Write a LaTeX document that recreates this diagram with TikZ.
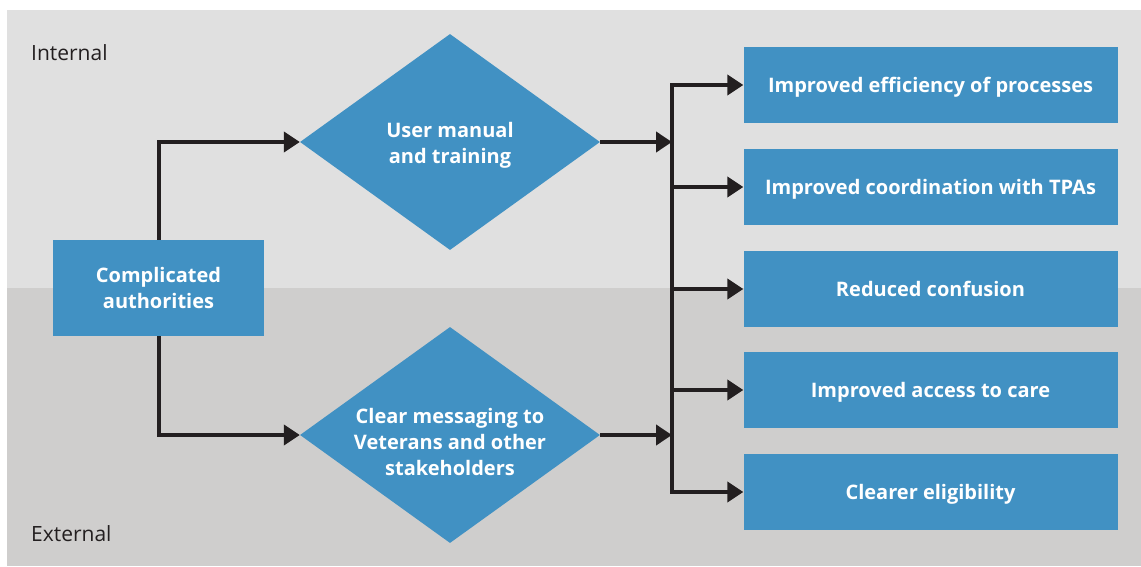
\documentclass[tikz,border=0pt]{standalone}
\usepackage{fontspec}
\setmainfont{Open Sans}
\usetikzlibrary{shapes.geometric,arrows.meta,calc}
\definecolor{topgray}{HTML}{E0E0E0}
\definecolor{botgray}{HTML}{CFCECD}
\definecolor{boxblue}{HTML}{4191C3}
\definecolor{ink}{HTML}{231F20}
\tikzset{
  boxfont/.style={font=\fontsize{20}{26}\selectfont\bfseries},
  bluebox/.style={rectangle, fill=boxblue, text=white, inner sep=0pt, align=center, boxfont},
  outbox/.style={bluebox, minimum width=374pt, minimum height=76pt, text height=19pt, text depth=4pt},
  dia/.style={diamond, fill=boxblue, inner sep=0pt,
    minimum width=300pt, minimum height=216pt},
  diatext/.style={text=white, align=center, inner sep=0pt, boxfont},
  zonelabel/.style={text=ink, anchor=base west, inner sep=0pt,
    font=\fontsize{21}{24}\selectfont},
  arr/.style={draw=ink, line width=4pt, -{Triangle[length=16pt,width=20pt]}},
}
\begin{document}
\begin{tikzpicture}[x=1pt,y=-1pt]
\useasboundingbox (0,0) rectangle (1141,567);
\fill[white] (0,0) rectangle (1141,567);
\fill[topgray] (7,10) rectangle (1141,288);
\fill[botgray] (7,288) rectangle (1141,566);
\node[zonelabel] (internal) at (31,60.5) {Internal};
\node[zonelabel] (external) at (31,541) {External};
\node[bluebox, minimum width=211pt, minimum height=96pt] (ca) at (158.5,288) {Complicated\\authorities};
\node[dia] (d1) at (450,142) {};
\node[diatext] (d1t) at (450,145.5) {User manual\\and training};
\node[dia] (d2) at (450,435) {};
\node[diatext] (d2t) at (450,442) {Clear messaging to\\Veterans and other\\stakeholders};
\node[outbox] (r1) at (930.5,85) {Improved efficiency of processes};
\node[outbox] (r2) at (930.5,187) {Improved coordination with TPAs};
\node[outbox] (r3) at (930.5,289) {Reduced confusion};
\node[outbox] (r4) at (930.5,390) {Improved access to care};
\node[outbox] (r5) at (930.5,492) {Clearer eligibility};
\coordinate (bus) at (672,0);
\draw[arr] (ca.north) |- (d1.west);
\draw[arr] (ca.south) |- (d2.west);
\draw[arr] (d1.east) -- (d1.east -| bus);
\draw[arr] (d2.east) -- (d2.east -| bus);
\draw[arr] (r3.west -| bus) |- (r1.west);
\draw[arr] (r3.west -| bus) |- (r5.west);
\draw[arr] (r2.west -| bus) -- (r2.west);
\draw[arr] (r3.west -| bus) -- (r3.west);
\draw[arr] (r4.west -| bus) -- (r4.west);
\end{tikzpicture}
\end{document}
